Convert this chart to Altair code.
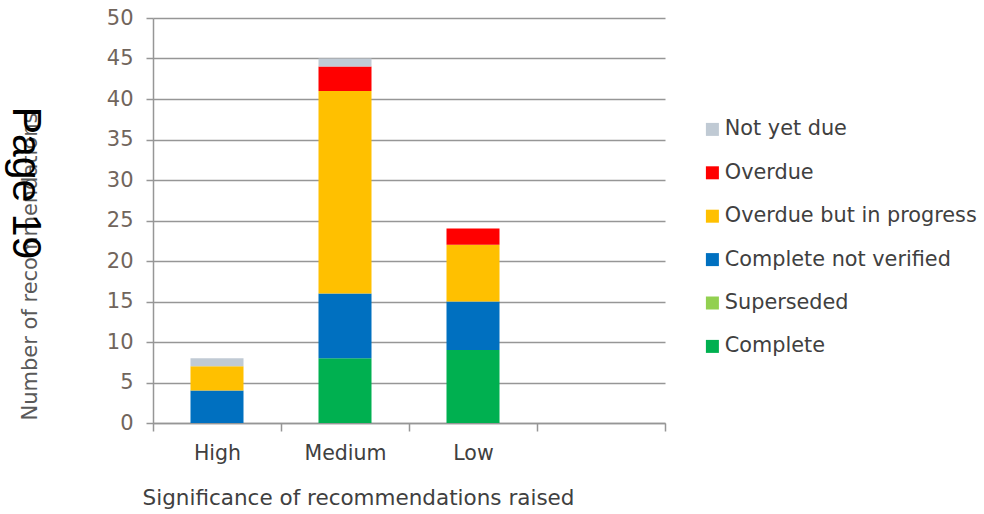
import altair as alt
import pandas as pd

# Recommendation counts by significance and status
categories = ["High", "Medium", "Low"]
statuses = ["Complete", "Superseded", "Complete not verified",
            "Overdue but in progress", "Overdue", "Not yet due"]
complete = [0, 8, 9]
superseded = [0, 0, 0]
complete_not_verified = [4, 8, 6]
overdue_in_progress = [3, 25, 7]
overdue = [0, 3, 2]
not_yet_due = [1, 1, 0]

series = [complete, superseded, complete_not_verified,
          overdue_in_progress, overdue, not_yet_due]
colors = ["#00B050", "#92D050", "#0070C0", "#FFC000", "#FF0000", "#C0CAD4"]

rows = []
for rank, (status, values) in enumerate(zip(statuses, series)):
    for cat, v in zip(categories, values):
        rows.append({"category": cat, "status": status, "count": v, "rank": rank})
df = pd.DataFrame(rows)

x_domain = categories + [""]
legend_order = list(reversed(statuses))
legend_colors = list(reversed(colors))

FONT = "DejaVu Sans"

bars = alt.Chart(df).mark_bar(size=53).encode(
    x=alt.X("category:N",
            scale=alt.Scale(domain=x_domain, paddingInner=0, paddingOuter=0),
            axis=alt.Axis(title="Significance of recommendations raised",
                          labelAngle=0, tickBand="extent", grid=False,
                          tickSize=8, labelPadding=12, titlePadding=24,
                          titleX=205, titleAlign="center",
                          labelFontSize=20.5, titleFontSize=21.5,
                          labelColor="#404040", titleColor="#404040",
                          titleFontWeight="normal")),
    y=alt.Y("count:Q",
            scale=alt.Scale(domain=[0, 50]),
            axis=alt.Axis(title="Number of recommendations",
                          values=list(range(0, 51, 5)), tickSize=7,
                          labelPadding=13, labelFontSize=21,
                          labelColor="#71655C", titleFontSize=21,
                          titleColor="#595959", titleFontWeight="normal",
                          titleY=248, titleAlign="center", titlePadding=66)),
    color=alt.Color("status:N",
                    scale=alt.Scale(domain=legend_order, range=legend_colors),
                    legend=alt.Legend(title=None, orient="none",
                                      legendX=549, legendY=101,
                                      symbolType="square", symbolSize=169,
                                      symbolStrokeWidth=0, labelFontSize=20.8,
                                      labelColor="#404040", rowPadding=21.4,
                                      labelOffset=2, labelLimit=0,
                                      labelFont=FONT)),
    order=alt.Order("rank:Q", sort="ascending"),
)

page = alt.Chart(pd.DataFrame({"t": ["Page 19"]})).mark_text(
    angle=90, align="center", baseline="alphabetic", fontSize=41,
    font="Liberation Sans", color="#000000"
).encode(text="t:N", x=alt.value(-140), y=alt.value(165))

chart = alt.layer(bars, page).properties(
    width=512, height=405,
    autosize=alt.AutoSizeParams(type="none"),
    padding={"left": 153, "top": 18, "right": 319, "bottom": 91},
).configure_axis(
    gridColor="#969696", gridWidth=1.5, domainColor="#969696",
    domainWidth=1.5, tickColor="#969696", tickWidth=1.5,
    labelFont=FONT, titleFont=FONT,
).configure_view(stroke=None).configure_text(font=FONT)

chart.save("out.html", embed_options={"renderer": "svg", "actions": False})
